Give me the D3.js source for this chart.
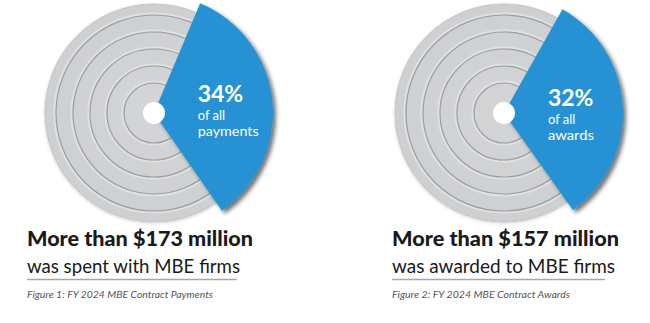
<!DOCTYPE html>
<html>
<head>
<meta charset="utf-8">
<script src="https://cdn.jsdelivr.net/npm/d3@7"></script>
<style>
  html, body { margin: 0; padding: 0; background: #fff; }
  svg { display: block; }
</style>
</head>
<body>
<div id="chart"></div>
<script>
// values
const shares = [34, 32];
const shareLines = [["of all", "payments"], ["of all", "awards"]];
const headlines = ["More than $173 million", "More than $157 million"];
const sublines = ["was spent with MBE firms", "was awarded to MBE firms"];
const captions = ["Figure 1: FY 2024 MBE Contract Payments", "Figure 2: FY 2024 MBE Contract Awards"];

const width = 650;
const height = 323;
const fontFamily = "Lato, 'Open Sans', sans-serif";

// layout per panel
const panels = [
  { cx: 154, cy: 113, midDeg: 84, x0: 27, w: [226, 213, 210, 186] },
  { cx: 504, cy: 113, midDeg: 87, x0: 392, w: [227, 223, 213, 178] }
];

const discRadius = 109;
const wedgeRadius = 119;
const holeRadius = 11;
const ringRadii = [30, 47, 64, 81, 98];

const angle = d3.scaleLinear().domain([0, 100]).range([0, 2 * Math.PI]);

const svg = d3.select("#chart")
  .append("svg")
  .attr("width", width)
  .attr("height", height);

const defs = svg.append("defs");

const shadow = defs.append("filter")
  .attr("id", "wedgeShadow")
  .attr("x", "-20%").attr("y", "-20%")
  .attr("width", "150%").attr("height", "150%");
shadow.append("feDropShadow")
  .attr("dx", 3).attr("dy", 3)
  .attr("stdDeviation", 2.2)
  .attr("flood-color", "#000")
  .attr("flood-opacity", 0.55);

const discShadow = defs.append("filter")
  .attr("id", "discShadow")
  .attr("x", "-20%").attr("y", "-20%")
  .attr("width", "140%").attr("height", "140%");
discShadow.append("feDropShadow")
  .attr("dx", 0).attr("dy", 1)
  .attr("stdDeviation", 1.5)
  .attr("flood-color", "#000")
  .attr("flood-opacity", 0.18);

const discGrad = defs.append("radialGradient")
  .attr("id", "discGrad");
discGrad.append("stop").attr("offset", "0%").attr("stop-color", "#d4d5d7");
discGrad.append("stop").attr("offset", "100%").attr("stop-color", "#cdcfd1");

const wedgeArc = d3.arc()
  .innerRadius(0)
  .outerRadius(wedgeRadius);

const labelArc = d3.arc()
  .innerRadius(60)
  .outerRadius(60);

panels.forEach((p, i) => {
  const g = svg.append("g")
    .attr("transform", `translate(${p.cx}, ${p.cy})`);

  g.append("circle")
    .attr("r", discRadius)
    .attr("fill", "url(#discGrad)")
    .attr("stroke", "#c4c6c8")
    .attr("stroke-width", 1)
    .attr("filter", "url(#discShadow)");

  // embossed rings
  g.selectAll("circle.ringLight")
    .data(ringRadii)
    .enter()
    .append("circle")
    .attr("class", "ringLight")
    .attr("r", d => d + 1.6)
    .attr("fill", "none")
    .attr("stroke", "#e0e1e2")
    .attr("stroke-width", 2);

  g.selectAll("circle.ring")
    .data(ringRadii)
    .enter()
    .append("circle")
    .attr("class", "ring")
    .attr("r", d => d)
    .attr("fill", "none")
    .attr("stroke", "#9c9ea1")
    .attr("stroke-width", 1.2);

  const span = angle(shares[i]);
  const mid = p.midDeg * Math.PI / 180;
  const slice = { startAngle: mid - span / 2, endAngle: mid + span / 2 };

  g.append("path")
    .attr("d", wedgeArc(slice))
    .attr("fill", "#2592d3")
    .attr("filter", "url(#wedgeShadow)");

  g.append("circle")
    .attr("r", holeRadius)
    .attr("fill", "#fff");

  const [lx, ly] = labelArc.centroid(slice);
  const base = ly - 4 - (i === 0 ? 1 : 0);
  const label = g.append("g")
    .attr("fill", "#fff")
    .attr("font-family", fontFamily);

  label.append("text")
    .attr("x", lx - 16)
    .attr("y", base)
    .attr("font-size", 23)
    .attr("font-weight", 700)
    .text(`${shares[i]}%`);

  shareLines[i].forEach((line, j) => {
    label.append("text")
      .attr("x", lx - 16)
      .attr("y", base + (j === 0 ? 18 : 34))
      .attr("font-size", 13)
      .attr("textLength", j === 1 ? (i === 0 ? 61 : 46) : null)
      .attr("lengthAdjust", "spacingAndGlyphs")
      .text(line);
  });

  // text block below
  const t = svg.append("g")
    .attr("font-family", fontFamily)
    .attr("fill", "#1a1a1a");

  t.append("text")
    .attr("x", p.x0)
    .attr("y", 246)
    .attr("font-size", 20)
    .attr("font-weight", 900)
    .attr("textLength", p.w[0])
    .attr("lengthAdjust", "spacingAndGlyphs")
    .text(headlines[i]);

  t.append("text")
    .attr("x", p.x0)
    .attr("y", 273)
    .attr("font-size", 19.5)
    .attr("font-weight", 400)
    .attr("textLength", p.w[1])
    .attr("lengthAdjust", "spacingAndGlyphs")
    .text(sublines[i]);

  t.append("line")
    .attr("x1", p.x0)
    .attr("x2", p.x0 + p.w[2])
    .attr("y1", 279.5)
    .attr("y2", 279.5)
    .attr("stroke", "#a8a8a8")
    .attr("stroke-width", 1.3);

  t.append("text")
    .attr("x", p.x0)
    .attr("y", 298)
    .attr("font-size", 10)
    .attr("font-style", "italic")
    .attr("fill", "#555")
    .attr("textLength", p.w[3])
    .attr("lengthAdjust", "spacingAndGlyphs")
    .text(captions[i]);
});
</script>
</body>
</html>
